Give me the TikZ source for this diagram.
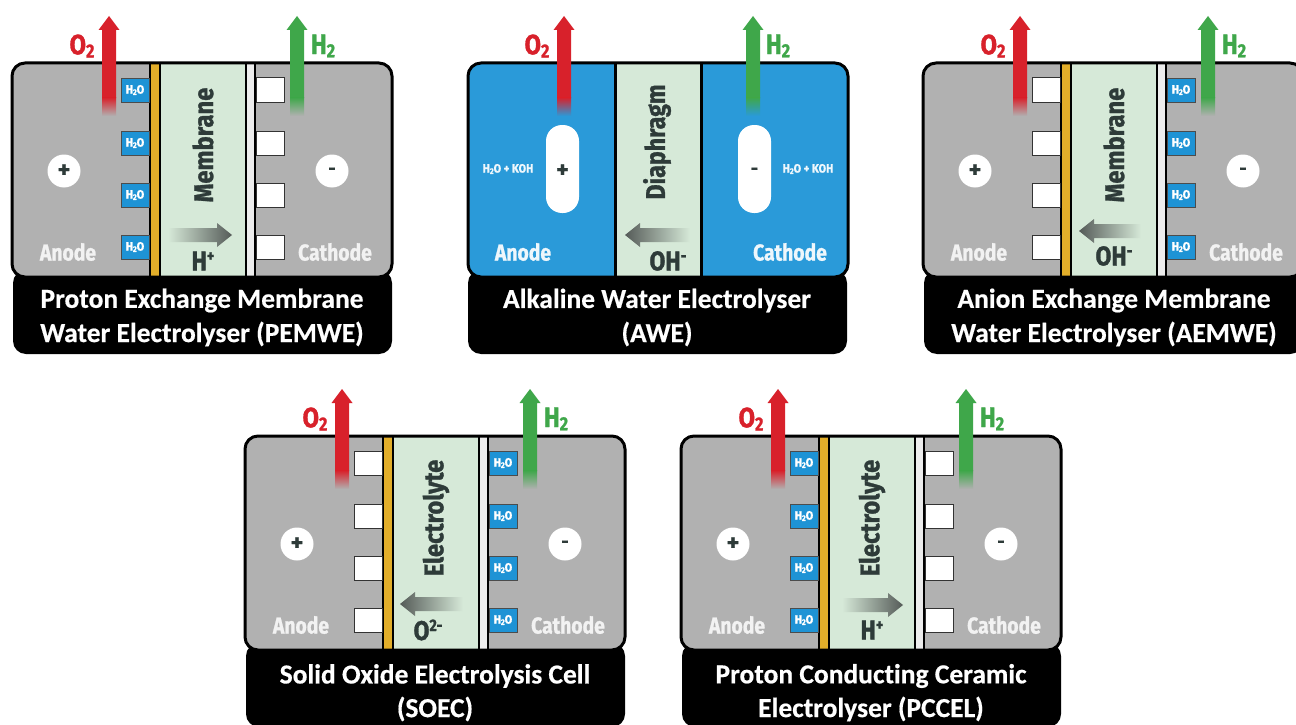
\documentclass[tikz,border=0pt]{standalone}
\usepackage{fontspec}
\setmainfont[Ligatures=NoCommon,FakeBold=0.5]{Carlito}
\newfontfamily\condfont[FakeBold=1.2]{Fira Sans}
\definecolor{cellgray}{HTML}{B1B1B1}
\definecolor{cellblue}{HTML}{2A9AD9}
\definecolor{portblue}{HTML}{1E93D5}
\definecolor{memgreen}{HTML}{D6E9D8}
\definecolor{goldstrip}{HTML}{E2AE2A}
\definecolor{paleStrip}{HTML}{EDEDED}
\definecolor{gasred}{HTML}{D8212B}
\definecolor{gasgreen}{HTML}{3FA74A}
\definecolor{inktext}{HTML}{2E3B39}
\definecolor{ionshade}{HTML}{555B58}
\newcommand{\narrow}[2][.8]{\scalebox{#1}[1]{#2}}
\newcommand{\lowtwo}{\raisebox{-.22ex}{\scalebox{.68}{2}}}
\newcommand{\hightext}[1]{\raisebox{.62ex}{\scalebox{.62}{#1}}}
\tikzset{
  x=1pt,y=-1pt,
  shellbody/.style={rounded corners=13pt},
  shellline/.style={draw=black,line width=3pt,rounded corners=13pt},
  namebar/.style={fill=black,rounded corners=13pt},
  nametext/.style={text=white,font=\bfseries\fontsize{27.5}{30}\selectfont,inner sep=0pt,anchor=center},
  sideword/.style={font=\condfont\bfseries\fontsize{23}{24}\selectfont,inner sep=0pt,text=#1},
  gasword/.style={font=\condfont\bfseries\fontsize{28}{28}\selectfont,inner sep=0pt,text=#1},
  corelabel/.style={font=\condfont\bfseries\fontsize{27}{28}\selectfont,inner sep=0pt,text=inktext,rotate=90},
  ionword/.style={font=\condfont\bfseries\fontsize{27}{28}\selectfont,inner sep=0pt,text=inktext},
  signdisc/.style={circle,fill=white,minimum size=33pt,inner sep=0pt,text=inktext,font=\condfont\bfseries\fontsize{24}{24}\selectfont},
  wetport/.style={draw=black!70,line width=.8pt,fill=portblue,minimum width=28pt,minimum height=24pt,inner sep=0pt,text=white,font=\condfont\bfseries\fontsize{12}{12}\selectfont},
  dryport/.style={draw=black!80,line width=1pt,fill=white,minimum width=28pt,minimum height=24pt,inner sep=0pt},
  capsule/.style={rounded corners=16pt,fill=white},
  smallmix/.style={font=\condfont\bfseries\fontsize{12}{12}\selectfont,inner sep=0pt,text=white!92!cellblue},
}
\newcommand{\wetbox}[3]{\node[wetport] (#1) at (#2,#3) {\narrow[.9]{H\lowtwo O}};}
\newcommand{\drybox}[3]{\node[dryport] (#1) at (#2,#3) {};}
% gas arrow: centre x, colour, colour at the faded foot
\newcommand{\gasarrow}[3]{%
  \fill[#2] (#1-7,98) -- (#1-7,30) -- (#1-10.5,30) -- (#1,16) -- (#1+10.5,30) -- (#1+7,30) -- (#1+7,98) -- cycle;
  \shade[top color=#2,bottom color=#3] (#1-7,97.5) rectangle (#1+7,116);
}
% ion arrows: tail x, tip x, centre y
\newcommand{\ionright}[3]{%
  \shade[left color=memgreen,right color=ionshade] (#1,#3-7) -- (#2-15,#3-7) -- (#2-15,#3-12) -- (#2,#3) -- (#2-15,#3+12) -- (#2-15,#3+7) -- (#1,#3+7) -- cycle;
}
\newcommand{\ionleft}[3]{%
  \shade[right color=memgreen,left color=ionshade] (#1,#3-7) -- (#2+15,#3-7) -- (#2+15,#3-12) -- (#2,#3) -- (#2+15,#3+12) -- (#2+15,#3+7) -- (#1,#3+7) -- cycle;
}
% shared frame parts
\newcommand{\framefill}[1]{\fill[shellbody,#1] (0,63) rectangle (380,277);}
\newcommand{\frameline}{\draw[shellline] (0,63) rectangle (380,277);}
% stack cell: id, dx, dy, left port, right port, core word, ion arrow code, ion position, ion text
\newcommand{\stackcell}[9]{%
  \begin{scope}[shift={(#2,#3)}]
    \fill[namebar] (1,270) rectangle (380,354);
    \framefill{cellgray}
    \fill[memgreen] (147,64) rectangle (233,276);
    \fill[goldstrip] (139,64) rectangle (146.5,276);
    \fill[paleStrip] (235,64) rectangle (242,276);
    \fill[black] (137,64) rectangle (139,276);
    \fill[black] (146.5,64) rectangle (149,276);
    \fill[black] (232.5,64) rectangle (235,276);
    \fill[black] (242,64) rectangle (244,276);
    \foreach \py/\pn in {90/a,143/b,195/c,247/d}{
      #4{#1-left-\pn}{123}{\py}
      #5{#1-right-\pn}{258}{\py}
    }
    \node[signdisc] (#1-plus) at (52,171) {+};
    \node[signdisc] (#1-minus) at (320,171) {\scalebox{.75}{-}};
    \node[sideword=white!95!black] (#1-anode) at (56,252) {\narrow[.84]{Anode}};
    \node[sideword=white!95!black] (#1-cathode) at (323,252) {\narrow[.84]{Cathode}};
    \node[corelabel] (#1-core) at (191,145) {\narrow[.88]{#6}};
    #7
    \node[ionword] (#1-ion) at #8 {\narrow[.85]{#9}};
    \frameline
    \gasarrow{97}{gasred}{cellgray}
    \gasarrow{285}{gasgreen}{cellgray}
    \node[gasword=gasred] (#1-oxy) at (70,46) {\narrow[.85]{O\lowtwo}};
    \node[gasword=gasgreen] (#1-hyd) at (311,46) {\narrow[.85]{H\lowtwo}};
  \end{scope}
}
\begin{document}
\begin{tikzpicture}
\clip (0,0) rectangle (1296,725);
\fill[white] (0,0) rectangle (1296,725);

% PEMWE
\stackcell{pem}{12}{0}{\wetbox}{\drybox}{Membrane}{\ionright{156}{220}{235}}{(191,261)}{H\hightext{+}}
\node[nametext] (pem-n1) at (202,300.5) {Proton Exchange Membrane};
\node[nametext] (pem-n2) at (202,334) {Water Electrolyser (PEMWE)};

% AWE
\begin{scope}[shift={(468,0)}]
  \fill[namebar] (0,270) rectangle (379,354);
  \framefill{cellblue}
  \fill[memgreen] (147,64) rectangle (233,276);
  \fill[black] (145.5,64) rectangle (149,276);
  \fill[black] (231.5,64) rectangle (234.5,276);
  \fill[capsule] (78,125) rectangle (111,213);
  \fill[capsule] (270,125) rectangle (303,213);
  \node[inner sep=0pt,text=inktext,font=\condfont\bfseries\fontsize{24}{24}\selectfont] (awe-plus) at (94.5,171) {+};
  \node[inner sep=0pt,text=inktext,font=\condfont\bfseries\fontsize{24}{24}\selectfont] (awe-minus) at (286.5,171) {\scalebox{.75}{-}};
  \node[smallmix] (awe-mixl) at (40,169) {\narrow[.9]{H\lowtwo O + KOH}};
  \node[smallmix] (awe-mixr) at (340,169) {\narrow[.9]{H\lowtwo O + KOH}};
  \node[sideword=white!92!cellblue] (awe-anode) at (55,252) {\narrow[.84]{Anode}};
  \node[sideword=white!92!cellblue] (awe-cathode) at (322,252) {\narrow[.84]{Cathode}};
  \node[corelabel] (awe-core) at (189,142) {\narrow[.86]{Diaphragm}};
  \ionleft{222}{157}{235}
  \node[ionword] (awe-ion) at (200,261) {\narrow[.85]{OH\hightext{-}}};
  \frameline
  \gasarrow{96}{gasred}{cellblue}
  \gasarrow{285}{gasgreen}{cellblue}
  \node[gasword=gasred] (awe-oxy) at (69,46) {\narrow[.85]{O\lowtwo}};
  \node[gasword=gasgreen] (awe-hyd) at (310,46) {\narrow[.85]{H\lowtwo}};
\end{scope}
\node[nametext] (awe-n1) at (657,300.5) {Alkaline Water Electrolyser};
\node[nametext] (awe-n2) at (657,334) {(AWE)};

% AEMWE
\stackcell{aem}{923}{0}{\drybox}{\wetbox}{Membrane}{\ionleft{218}{156}{231}}{(191,256)}{OH\hightext{-}}
\node[nametext] (aem-n1) at (1114,300.5) {Anion Exchange Membrane};
\node[nametext] (aem-n2) at (1114,334) {Water Electrolyser (AEMWE)};

% SOEC
\stackcell{soe}{245}{373}{\drybox}{\wetbox}{Electrolyte}{\ionleft{218}{155}{231}}{(183,257)}{O\hightext{2-}}
\node[nametext] (soe-n1) at (435,676) {Solid Oxide Electrolysis Cell};
\node[nametext] (soe-n2) at (435,709) {(SOEC)};

% PCCEL
\stackcell{pce}{681}{373}{\wetbox}{\drybox}{Electrolyte}{\ionright{161}{222}{232}}{(191,257)}{H\hightext{+}}
\node[nametext] (pce-n1) at (871,676) {Proton Conducting Ceramic};
\node[nametext] (pce-n2) at (871,709) {Electrolyser (PCCEL)};
\end{tikzpicture}
\end{document}
